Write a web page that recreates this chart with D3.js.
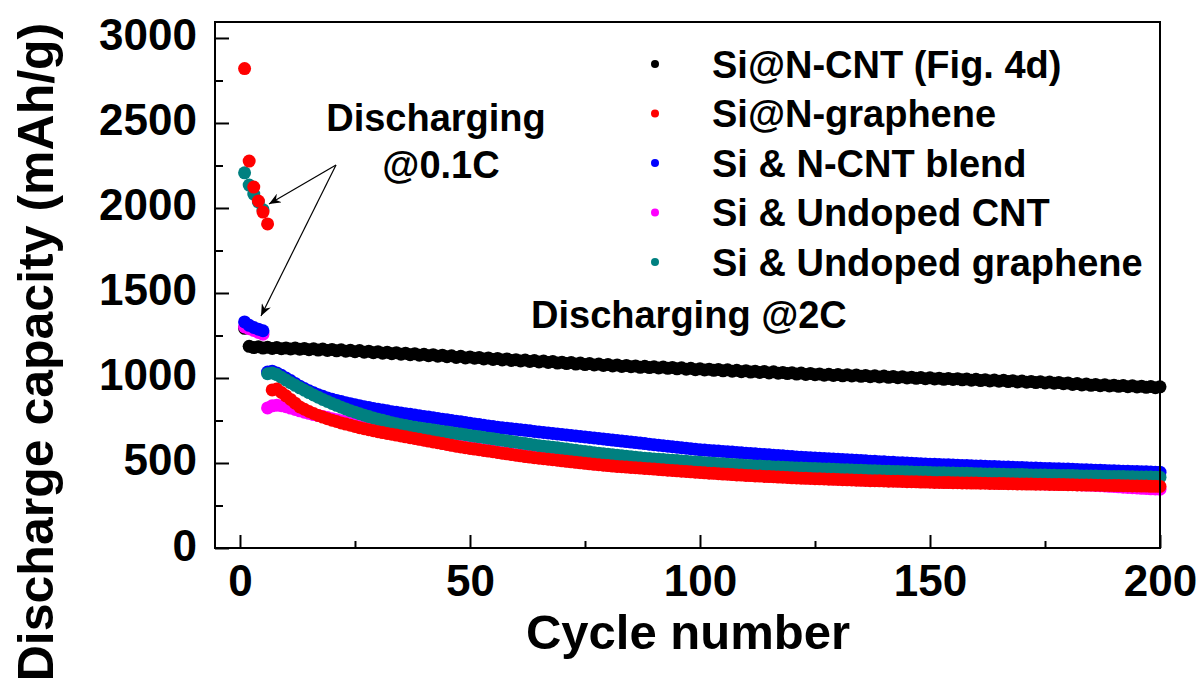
<!DOCTYPE html>
<html>
<head>
<meta charset="utf-8">
<script src="https://cdn.jsdelivr.net/npm/d3@7"></script>
<style>
  html, body { margin: 0; padding: 0; background: #fff; }
  svg { display: block; }
  text { font-family: "Liberation Sans", Arial, sans-serif; font-weight: bold; fill: #000; }
</style>
</head>
<body>
<svg id="chart" width="1203" height="688"></svg>
<script>
// ---------------- data ----------------
const seriesNames = ["Si@N-CNT (Fig. 4d)", "Si@N-graphene", "Si & N-CNT blend", "Si & Undoped CNT", "Si & Undoped graphene"];
const seriesColors = ["#000000", "#ff0000", "#0000ff", "#ff00ff", "#008080"];
const cycles = d3.range(1, 201);
const xTicks = [0, 50, 100, 150, 200];
const xMinorTicks = [25, 75, 125, 175];
const yTicks = [0, 500, 1000, 1500, 2000, 2500, 3000];
const yMinorTicks = [250, 750, 1250, 1750, 2250, 2750];

const siNCNT = [
1292,1186,1179,1184,1176,1181,1174,1179,1172,1177,
1171,1176,1169,1174,1166,1172,1164,1170,1162,1168,
1160,1166,1158,1163,1155,1161,1152,1158,1149,1155,
1146,1152,1143,1149,1140,1146,1137,1143,1134,1139,
1131,1137,1128,1134,1125,1131,1121,1128,1118,1124,
1116,1121,1112,1118,1109,1115,1106,1112,1103,1108,
1100,1106,1097,1103,1094,1100,1091,1097,1088,1093,
1085,1091,1082,1088,1079,1085,1077,1082,1074,1079,
1071,1077,1068,1074,1066,1071,1063,1069,1061,1066,
1059,1064,1057,1062,1054,1060,1052,1057,1049,1054,
1047,1052,1045,1050,1042,1048,1040,1045,1037,1043,
1035,1040,1033,1038,1030,1036,1028,1033,1026,1031,
1023,1029,1021,1027,1019,1024,1016,1022,1015,1020,
1013,1019,1012,1017,1010,1015,1008,1013,1006,1011,
1004,1009,1002,1007,1000,1005,998,1003,996,1001,
994,999,992,997,991,996,989,994,987,992,
985,990,983,988,981,986,979,984,977,982,
975,980,973,978,971,976,969,974,966,971,
962,967,959,964,957,962,955,960,953,958,
951,956,949,954,947,952,945,950,943,948];

const siNGraphene = [
2820,2276,2123,2041,1976,1906,930,935,915,895,
874,852,830,816,803,791,780,770,761,752,
744,736,729,722,715,708,702,696,690,684,
679,674,669,664,659,654,649,644,639,634,
629,624,619,614,609,604,599,594,590,586,
582,578,574,570,566,562,558,554,550,546,
542,538,535,531,528,525,522,519,516,513,
510,507,504,501,498,495,492,490,487,485,
482,480,478,476,474,472,470,468,466,464,
462,460,458,456,454,452,450,448,446,444,
442,440,439,437,435,434,432,430,429,427,
426,424,423,421,420,419,417,416,415,413,
412,411,410,409,408,407,406,405,404,403,
402,401,400,399,398,397,396,396,395,394,
393,393,392,391,390,390,389,388,388,387,
386,386,385,385,384,384,383,383,382,382,
381,381,380,380,379,379,378,378,377,377,
376,376,375,375,375,374,374,373,373,372,
372,371,371,370,370,369,369,368,368,367,
367,366,366,365,365,364,364,363,363,362];

const siNCNTBlend = [
1330,1310,1297,1287,1278,1035,1040,1030,1016,1000,
985,968,952,938,925,913,902,892,883,875,
868,861,855,849,843,837,831,826,821,816,
812,807,802,798,794,790,786,782,778,774,
770,766,762,758,754,750,746,742,738,734,
730,726,722,718,714,710,707,704,701,698,
695,692,689,686,683,680,677,674,671,668,
665,662,659,656,653,650,647,644,641,638,
635,632,629,626,623,620,617,614,611,608,
605,602,599,596,593,590,587,584,581,578,
576,574,572,570,568,566,564,562,560,558,
556,554,552,550,548,546,544,542,540,538,
536,534,532,531,529,528,526,525,523,522,
520,519,517,516,514,513,511,510,508,507,
505,504,502,501,500,498,497,496,494,493,
492,491,490,489,488,487,486,485,484,483,
482,481,480,479,478,477,476,475,474,473,
472,471,470,469,468,467,466,466,465,464,
463,462,461,460,459,458,457,456,455,454,
453,452,451,450,450,449,448,447,446,446];

const siUndopedCNT = [
1300,1290,1280,1268,1258,824,836,840,837,831,
823,815,807,799,792,785,779,773,767,761,
755,749,743,737,731,722,715,708,701,694,
687,681,675,669,663,657,652,647,642,637,
632,627,622,617,612,607,602,597,593,589,
585,581,577,573,569,565,561,557,553,549,
545,541,538,534,531,528,525,522,519,516,
513,510,507,504,501,498,495,493,490,488,
485,483,481,479,477,475,473,471,469,467,
465,463,461,459,457,455,453,451,449,447,
445,443,442,440,438,437,435,433,432,430,
429,427,426,424,423,422,420,419,418,416,
415,414,413,412,411,410,409,408,407,406,
405,404,403,402,401,400,399,399,398,397,
396,396,395,394,393,393,392,391,391,390,
389,389,388,388,387,387,386,386,385,385,
384,384,383,383,382,382,381,381,380,380,
379,379,378,378,377,377,376,375,375,374,
373,372,371,370,369,368,366,365,363,362,
360,358,356,355,353,351,350,348,347,346];

const siUndopedGraphene = [
2207,2135,2082,2035,1990,1025,1030,1020,1004,988,
972,957,942,928,914,900,887,874,862,850,
839,828,818,808,799,790,781,773,765,758,
751,744,737,731,725,720,715,710,706,702,
698,694,690,686,682,678,674,670,666,662,
658,654,650,646,642,638,634,630,626,622,
618,614,610,606,602,598,595,592,589,586,
582,578,575,571,568,564,561,558,555,552,
549,546,543,540,537,534,531,528,526,524,
522,520,518,516,514,512,510,508,506,504,
502,500,498,496,495,493,491,490,488,486,
485,483,482,480,479,477,476,475,473,472,
471,470,469,468,467,466,465,464,463,462,
461,460,459,458,457,456,455,454,453,452,
451,450,450,449,448,447,446,446,445,444,
443,443,442,441,441,440,439,439,438,437,
437,436,436,435,434,434,433,433,432,432,
431,430,430,429,429,428,428,427,427,426,
426,425,424,424,423,423,422,422,421,421,
420,420,419,419,418,418,417,417,416,416];

const seriesValues = [siNCNT, siNGraphene, siNCNTBlend, siUndopedCNT, siUndopedGraphene];
const drawOrder = [0, 3, 2, 4, 1];

// ---------------- layout ----------------
const svg = d3.select("#chart");
const L = 215, R = 1160, T = 22, B = 548;
const x = d3.scaleLinear().domain([-5.43, 200]).range([L, R]);
const y = d3.scaleLinear().domain([0, 3094]).range([B, T]);

svg.append("rect").attr("width", 1203).attr("height", 688).attr("fill", "#fff");

// data points
const plot = svg.append("g");
drawOrder.forEach(si => {
  plot.append("g").selectAll("circle")
    .data(seriesValues[si].map((v, i) => ({c: cycles[i], v})))
    .join("circle")
    .attr("cx", d => x(d.c))
    .attr("cy", d => y(d.v))
    .attr("r", 6.5)
    .attr("fill", seriesColors[si]);
});

// axes
const yAxis = svg.append("g").attr("transform", `translate(${L},0)`)
  .call(d3.axisLeft(y).tickValues(yTicks).tickSize(-14).tickPadding(18).tickFormat(d3.format("d")));
const yMinor = svg.append("g").attr("transform", `translate(${L},0)`)
  .call(d3.axisLeft(y).tickValues(yMinorTicks).tickSize(-8).tickFormat(""));
const xAxis = svg.append("g").attr("transform", `translate(0,${B})`)
  .call(d3.axisBottom(x).tickValues(xTicks).tickSize(-13).tickPadding(17).tickFormat(d3.format("d")));
const xMinor = svg.append("g").attr("transform", `translate(0,${B})`)
  .call(d3.axisBottom(x).tickValues(xMinorTicks).tickSize(-7).tickFormat(""));

[yAxis, yMinor, xAxis, xMinor].forEach(g => {
  g.select(".domain").remove();
  g.selectAll(".tick line").attr("stroke", "#000").attr("stroke-width", 2);
});
yAxis.selectAll(".tick text").attr("font-size", 44).attr("dy", 12)
  .style("font-family", "'Liberation Sans', Arial, sans-serif").style("font-weight", "bold");
xAxis.selectAll(".tick text").attr("font-size", 44)
  .style("font-family", "'Liberation Sans', Arial, sans-serif").style("font-weight", "bold");

// frame
svg.append("rect").attr("x", L).attr("y", T).attr("width", R - L).attr("height", B - T)
  .attr("fill", "none").attr("stroke", "#000").attr("stroke-width", 2);

// axis titles
svg.append("text").attr("transform", "translate(53,352) rotate(-90)")
  .attr("text-anchor", "middle").attr("font-size", 50).text("Discharge capacity (mAh/g)");
svg.append("text").attr("x", 688).attr("y", 649)
  .attr("text-anchor", "middle").attr("font-size", 49).text("Cycle number");

// legend
const legendY = [64, 113.5, 163, 212.5, 262];
const legend = svg.append("g");
seriesNames.forEach((name, i) => {
  legend.append("circle").attr("cx", 655).attr("cy", legendY[i]).attr("r", 4).attr("fill", seriesColors[i]);
  legend.append("text").attr("x", 712).attr("y", legendY[i] + 13.5).attr("font-size", 38).text(name);
});

// annotations
svg.append("text").attr("x", 436).attr("y", 131).attr("text-anchor", "middle").attr("font-size", 38).text("Discharging");
svg.append("text").attr("x", 441).attr("y", 178).attr("text-anchor", "middle").attr("font-size", 38).text("@0.1C");
svg.append("text").attr("x", 531).attr("y", 328).attr("font-size", 38).text("Discharging @2C");

svg.append("defs").append("marker")
  .attr("id", "arrow").attr("viewBox", "0 0 12 10").attr("refX", 12).attr("refY", 5)
  .attr("markerWidth", 12).attr("markerHeight", 10).attr("markerUnits", "userSpaceOnUse")
  .attr("orient", "auto")
  .append("path").attr("d", "M0,0 L12,5 L0,10 L4,5 Z").attr("fill", "#000");

const arrowStart = [336, 165];
const arrowEnds = [[269, 204], [261, 316]];
arrowEnds.forEach(e => {
  svg.append("line").attr("x1", arrowStart[0]).attr("y1", arrowStart[1])
    .attr("x2", e[0]).attr("y2", e[1])
    .attr("stroke", "#000").attr("stroke-width", 1.2).attr("marker-end", "url(#arrow)");
});
</script>
</body>
</html>
